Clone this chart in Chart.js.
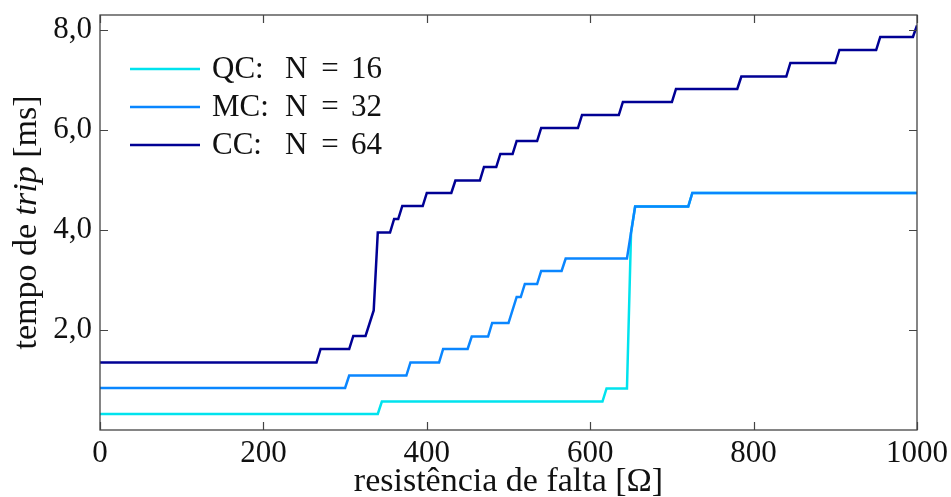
<!DOCTYPE html>
<html>
<head>
<meta charset="utf-8">
<script src="https://cdn.jsdelivr.net/npm/chart.js@4/dist/chart.umd.min.js"></script>
<style>
  html, body { margin: 0; padding: 0; background: #fff; }
  #wrap { width: 951px; height: 497px; }
</style>
</head>
<body>
<div id="wrap"><canvas id="chart"></canvas></div>
<script>
// resistência de falta [Ω] vs tempo de trip [ms], cantos dos degraus
const qcX = [0, 340, 345, 615, 620, 645, 650, 655, 720, 725, 1000];
const qcY = [0.32, 0.32, 0.57, 0.57, 0.83, 0.83, 3.95, 4.47, 4.47, 4.74, 4.74];

const mcX = [0, 300, 305, 375, 380, 415, 420, 450, 455, 475, 480, 500, 510, 515, 520, 535, 540, 565, 570, 645, 655, 720, 725, 1000];
const mcY = [0.84, 0.84, 1.09, 1.09, 1.35, 1.35, 1.62, 1.62, 1.87, 1.87, 2.14, 2.14, 2.66, 2.66, 2.92, 2.92, 3.18, 3.18, 3.43, 3.43, 4.47, 4.47, 4.74, 4.74];

const ccX = [0, 265, 270, 305, 310, 325, 335, 340, 355, 360, 365, 370, 395, 400, 430, 435, 465, 470, 485, 490, 505, 510, 535, 540, 585, 590, 635, 640, 700, 705, 780, 785, 840, 845, 900, 905, 950, 955, 995, 1000];
const ccY = [1.35, 1.35, 1.62, 1.62, 1.88, 1.88, 2.39, 3.95, 3.95, 4.22, 4.22, 4.48, 4.48, 4.74, 4.74, 4.99, 4.99, 5.26, 5.26, 5.52, 5.52, 5.78, 5.78, 6.04, 6.04, 6.30, 6.30, 6.56, 6.56, 6.82, 6.82, 7.07, 7.07, 7.34, 7.34, 7.60, 7.60, 7.86, 7.86, 8.09];

const seriesNames = ['QC', 'MC', 'CC'];
const seriesN = [16, 32, 64];
const seriesColors = ['#00E3EE', '#0A86FF', '#000094'];

const xTicks = [0, 200, 400, 600, 800, 1000];
const yTicks = [2, 4, 6, 8];

const FONT = '"Liberation Serif", "DejaVu Serif", serif';
const FSIZE = 31;
const TSIZE = 34;
const INK = '#111';
const FRAME = '#444';

function pts(xs, ys) {
  return xs.map((x, i) => ({ x: x, y: ys[i] }));
}

// caixa, ticks para dentro, título do eixo y e legenda
const framePlugin = {
  id: 'frame',
  afterDraw(chart) {
    const ctx = chart.ctx;
    const a = chart.chartArea;
    const xs = chart.scales.x;
    const ys = chart.scales.y;
    const tl = 8;

    ctx.save();
    ctx.strokeStyle = FRAME;
    ctx.lineWidth = 1.3;
    ctx.strokeRect(a.left, a.top, a.right - a.left, a.bottom - a.top);

    ctx.lineWidth = 1.2;
    ctx.beginPath();
    xTicks.forEach(v => {
      const px = Math.round(xs.getPixelForValue(v)) + 0.5;
      ctx.moveTo(px, a.bottom); ctx.lineTo(px, a.bottom - tl);
      ctx.moveTo(px, a.top); ctx.lineTo(px, a.top + tl);
    });
    yTicks.forEach(v => {
      const py = Math.round(ys.getPixelForValue(v)) + 0.5;
      ctx.moveTo(a.left, py); ctx.lineTo(a.left + tl, py);
      ctx.moveTo(a.right, py); ctx.lineTo(a.right - tl, py);
    });
    ctx.stroke();

    // título do eixo y com "trip" em itálico
    const parts = [
      { t: 'tempo de ', f: TSIZE + 'px ' + FONT },
      { t: 'trip', f: 'italic ' + TSIZE + 'px ' + FONT },
      { t: ' [ms]', f: TSIZE + 'px ' + FONT }
    ];
    let total = 0;
    parts.forEach(p => { ctx.font = p.f; p.w = ctx.measureText(p.t).width; total += p.w; });
    ctx.translate(27, (a.top + a.bottom) / 2);
    ctx.rotate(-Math.PI / 2);
    ctx.fillStyle = INK;
    ctx.textBaseline = 'middle';
    ctx.textAlign = 'left';
    let cx = -total / 2;
    parts.forEach(p => { ctx.font = p.f; ctx.fillText(p.t, cx, 0); cx += p.w; });
    ctx.restore();

    // legenda: "QC:", "N", "=", valor em colunas
    ctx.save();
    ctx.font = FSIZE + 'px ' + FONT;
    ctx.textBaseline = 'alphabetic';
    ctx.fillStyle = INK;
    chart.data.datasets.forEach((ds, i) => {
      const ly = 69 + i * 38;
      const base = ly + 9;
      ctx.strokeStyle = ds.borderColor;
      ctx.lineWidth = 2.5;
      ctx.beginPath();
      ctx.moveTo(130, ly); ctx.lineTo(200, ly);
      ctx.stroke();
      ctx.textAlign = 'left';
      ctx.fillText(seriesNames[i] + ':', 212, base);
      ctx.fillText('N', 285, base);
      ctx.textAlign = 'center';
      ctx.fillText('=', 330, base);
      ctx.textAlign = 'left';
      ctx.fillText(String(seriesN[i]), 351, base);
    });
    ctx.restore();
  }
};

new Chart(document.getElementById('chart'), {
  type: 'line',
  data: {
    datasets: seriesNames.map((name, i) => ({
      label: name + ': N = ' + seriesN[i],
      data: pts([qcX, mcX, ccX][i], [qcY, mcY, ccY][i]),
      borderColor: seriesColors[i],
      order: 2 - i
    }))
  },
  options: {
    responsive: true,
    maintainAspectRatio: false,
    animation: false,
    elements: {
      line: { borderWidth: 2.5, tension: 0, fill: false },
      point: { radius: 0 }
    },
    layout: { padding: { top: 15, right: 34, left: 0, bottom: 0 } },
    scales: {
      x: {
        type: 'linear',
        min: 0,
        max: 1000,
        afterFit: s => { s.height = 67; s.paddingLeft = 0; s.paddingRight = 0; },
        afterBuildTicks: s => { s.ticks = xTicks.map(v => ({ value: v })); },
        ticks: {
          color: INK,
          padding: 5,
          maxRotation: 0,
          font: { family: FONT, size: FSIZE },
          callback: v => String(v)
        },
        grid: { display: false, drawTicks: false, tickLength: 0 },
        border: { display: false },
        title: {
          display: true,
          text: 'resistência de falta [Ω]',
          color: INK,
          font: { family: FONT, size: TSIZE, lineHeight: 0.9 },
          padding: { top: 0, bottom: 0 }
        }
      },
      y: {
        type: 'linear',
        min: 0,
        max: 8.3,
        afterFit: s => { s.width = 100; s.paddingTop = 0; s.paddingBottom = 0; },
        afterBuildTicks: s => { s.ticks = yTicks.map(v => ({ value: v })); },
        ticks: {
          color: INK,
          padding: 8,
          font: { family: FONT, size: FSIZE },
          callback: v => v.toFixed(1).replace('.', ',')
        },
        grid: { display: false, drawTicks: false, tickLength: 0 },
        border: { display: false }
      }
    },
    plugins: {
      legend: { display: false },
      tooltip: { enabled: false }
    }
  },
  plugins: [framePlugin]
});
</script>
</body>
</html>
